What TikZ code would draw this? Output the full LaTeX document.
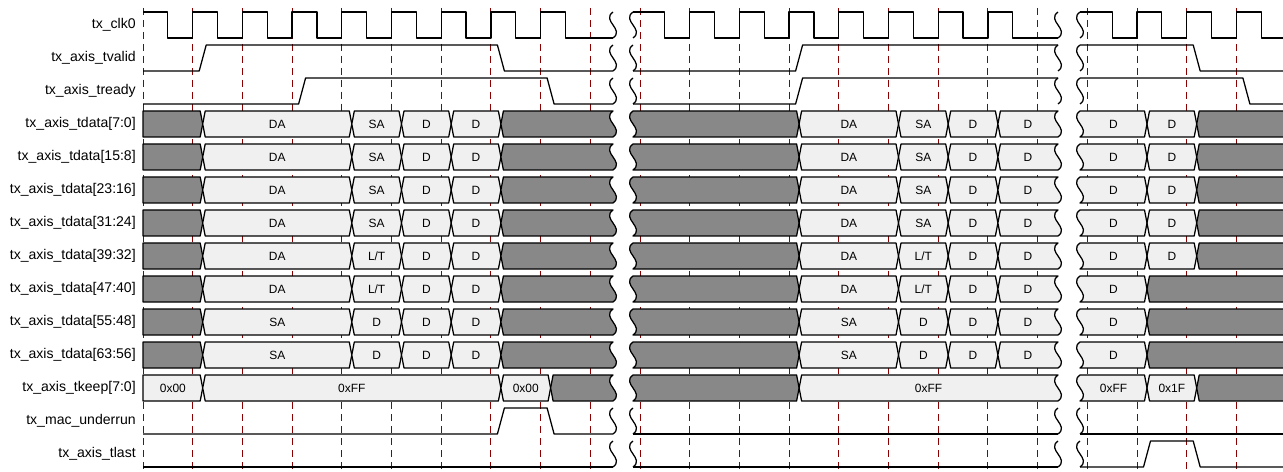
\documentclass[tikz,border=0pt]{standalone}
\usepackage{fontspec}
\setmainfont{Liberation Sans}

\definecolor{bgray}{HTML}{888888}
\definecolor{blight}{HTML}{F0F0F0}
\definecolor{tickred}{HTML}{8B0000}

\newcounter{valno}
\newcommand{\lflat}[1]{(#1,26) -- (#1,0)}
\newcommand{\lcross}[1]{(#1+2.5,26) -- (#1,13) -- (#1+2.5,0)}
\newcommand{\lwave}[1]{(#1,26) .. controls (#1+12,17.3) and (#1-12,8.7) .. (#1,0)}
\newcommand{\rcross}[1]{-- (#1-2.5,0) -- (#1,13) -- (#1-2.5,26)}
\newcommand{\rwave}[1]{-- (#1,0) .. controls (#1-12,8.7) and (#1+12,17.3) .. (#1,26)}
\newcommand{\ropen}[1]{-- (#1,0) -- (#1,26)}
\newcommand{\wave}[1]{(#1,0) .. controls (#1-12,8.7) and (#1+12,17.3) .. (#1,26)}
\newcommand{\sigup}[1]{-- (#1-3.5,26) -- (#1+3.5,0)}
\newcommand{\sigdn}[1]{-- (#1-3.5,0) -- (#1+3.5,26)}
\newcommand{\buscell}[6]{%
  \path[bus,fill=#1] #4{#2} #5{#3} -- cycle;
  \if\relax\detokenize{#6}\relax\else
    \stepcounter{valno}%
    \node[val] (v\arabic{valno}) at ({(#2+#3)/2},13) {#6};
  \fi}
\newcommand{\busrow}[4]{%
  \buscell{bgray}{143}{202.7}{\lflat}{\rcross}{}
  \buscell{blight}{202.7}{351.8}{\lcross}{\rcross}{#1}
  \buscell{blight}{351.8}{401.5}{\lcross}{\rcross}{#2}
  \buscell{blight}{401.5}{451.2}{\lcross}{\rcross}{#3}
  \buscell{blight}{451.2}{500.9}{\lcross}{\rcross}{#4}
  \buscell{bgray}{500.9}{613}{\lcross}{\rwave}{}
  \buscell{bgray}{633}{799.1}{\lwave}{\rcross}{}
  \buscell{blight}{799.1}{898.5}{\lcross}{\rcross}{#1}
  \buscell{blight}{898.5}{948.2}{\lcross}{\rcross}{#2}
  \buscell{blight}{948.2}{997.9}{\lcross}{\rcross}{#3}
  \buscell{blight}{997.9}{1058}{\lcross}{\rwave}{#4}}
\newcommand{\tailtwo}{%
  \buscell{blight}{1080}{1147}{\lwave}{\rcross}{D}
  \buscell{blight}{1147}{1196.7}{\lcross}{\rcross}{D}
  \buscell{bgray}{1196.7}{1290}{\lcross}{\ropen}{}}
\newcommand{\tailone}{%
  \buscell{blight}{1080}{1147}{\lwave}{\rcross}{D}
  \buscell{bgray}{1147}{1290}{\lcross}{\ropen}{}}
\newcommand{\breaks}{\draw[sig] \wave{613} \wave{633} \wave{1058} \wave{1080};}

\begin{document}
\begin{tikzpicture}[x=0.025cm, y=-0.025cm,
    sig/.style={line width=0.9pt, line join=round},
    bus/.style={draw, line width=0.9pt, line join=round},
    tick/.style={tickred, line width=0.6pt, dash pattern=on 5pt off 3.5pt},
    lbl/.style={anchor=east, inner sep=0pt, font=\fontsize{10}{12}\selectfont},
    val/.style={inner sep=0pt, font=\fontsize{8.5}{10}\selectfont},
    sigrow/.style={shift={(0,#1*33+12)}}]
  \useasboundingbox (0,0) rectangle (1283,472);

  \foreach \k in {0,...,22}
    \draw[tick] ({143+49.7*\k},8) -- ++(0,464);

  \foreach \name [count=\i from 0] in {tx\_clk0, tx\_axis\_tvalid, tx\_axis\_tready,
      tx\_axis\_tdata[7:0], tx\_axis\_tdata[15:8], tx\_axis\_tdata[23:16],
      tx\_axis\_tdata[31:24], tx\_axis\_tdata[39:32], tx\_axis\_tdata[47:40],
      tx\_axis\_tdata[55:48], tx\_axis\_tdata[63:56], tx\_axis\_tkeep[7:0],
      tx\_mac\_underrun, tx\_axis\_tlast}
    \node[lbl] (lbl\i) at (136,{33*\i+25}) {\name};

  \begin{scope}[sigrow=0]
    \draw[sig] (143,0) foreach \k in {0,...,7} { -- ++(24.85,0) -- ++(0,26) -- ++(24.85,0) -- ++(0,-26) }
      -- ++(24.85,0) -- ++(0,26) -- (613,26);
    \draw[sig] (633,0) -- (664.85,0) -- ++(0,26) foreach \k in {11,...,17} { -- ({143+49.7*\k},26) -- ++(0,-26) -- ++(24.85,0) -- ++(0,26) }
      -- (1058,26);
    \draw[sig] (1080,0) -- (1112.15,0) -- ++(0,26) foreach \k in {20,21,22} { -- ({143+49.7*\k},26) -- ++(0,-26) -- ++(24.85,0) -- ++(0,26) }
      -- (1290,26);
    \breaks
  \end{scope}

  \begin{scope}[sigrow=1]
    \draw[sig] (143,26) \sigup{202.7} \sigdn{500.9} -- (613,26);
    \draw[sig] (633,26) \sigup{799.1} -- (1058,0);
    \draw[sig] (1080,0) \sigdn{1196.7} -- (1290,26);
    \breaks
  \end{scope}

  \begin{scope}[sigrow=2]
    \draw[sig] (143,26) \sigup{302.1} \sigdn{550.6} -- (613,26);
    \draw[sig] (633,26) \sigup{799.1} -- (1058,0);
    \draw[sig] (1080,0) \sigdn{1246.4} -- (1290,26);
    \breaks
  \end{scope}

  \foreach \r in {3,...,6} {
    \begin{scope}[sigrow=\r]
      \busrow{DA}{SA}{D}{D}
      \tailtwo
    \end{scope}
  }
  \begin{scope}[sigrow=7]
    \busrow{DA}{L/T}{D}{D}
    \tailtwo
  \end{scope}
  \begin{scope}[sigrow=8]
    \busrow{DA}{L/T}{D}{D}
    \tailone
  \end{scope}
  \foreach \r in {9,10} {
    \begin{scope}[sigrow=\r]
      \busrow{SA}{D}{D}{D}
      \tailone
    \end{scope}
  }

  \begin{scope}[sigrow=11]
    \buscell{blight}{143}{202.7}{\lflat}{\rcross}{0x00}
    \buscell{blight}{202.7}{500.9}{\lcross}{\rcross}{0xFF}
    \buscell{blight}{500.9}{550.6}{\lcross}{\rcross}{0x00}
    \buscell{bgray}{550.6}{613}{\lcross}{\rwave}{}
    \buscell{bgray}{633}{799.1}{\lwave}{\rcross}{}
    \buscell{blight}{799.1}{1058}{\lcross}{\rwave}{0xFF}
    \buscell{blight}{1080}{1147}{\lwave}{\rcross}{0xFF}
    \buscell{blight}{1147}{1196.7}{\lcross}{\rcross}{0x1F}
    \buscell{bgray}{1196.7}{1290}{\lcross}{\ropen}{}
  \end{scope}

  \begin{scope}[sigrow=12]
    \draw[sig] (143,26) \sigup{500.9} \sigdn{550.6} -- (613,26);
    \draw[sig] (633,26) -- (1058,26);
    \draw[sig] (1080,26) -- (1290,26);
    \breaks
  \end{scope}

  \begin{scope}[sigrow=13]
    \draw[sig] (143,26) -- (613,26);
    \draw[sig] (633,26) -- (1058,26);
    \draw[sig] (1080,26) \sigup{1147} \sigdn{1196.7} -- (1290,26);
    \breaks
  \end{scope}
\end{tikzpicture}
\end{document}
